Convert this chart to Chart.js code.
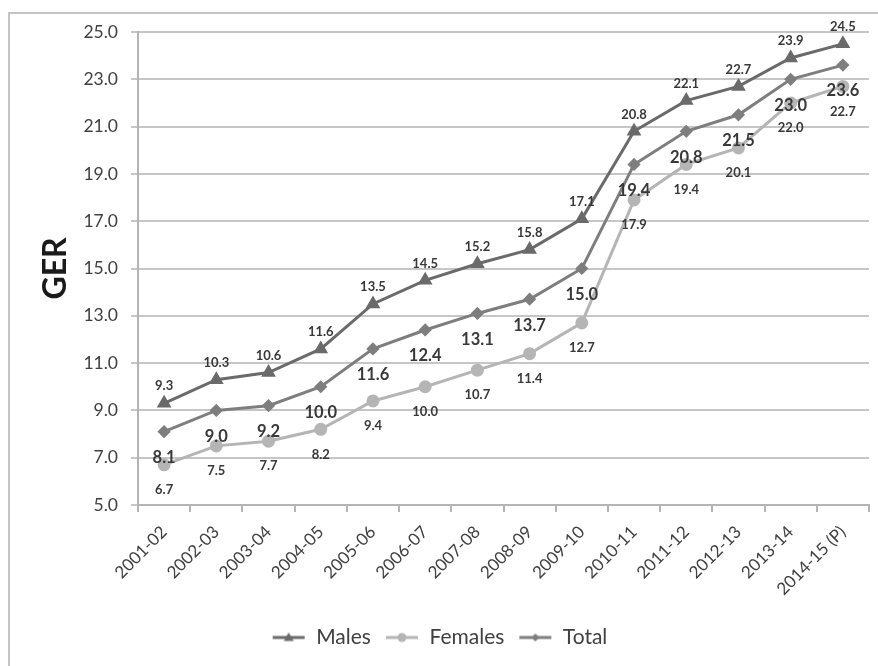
<!DOCTYPE html>
<html>
<head>
<meta charset="utf-8">
<script src="https://cdn.jsdelivr.net/npm/chart.js@4.4.1/dist/chart.umd.min.js"></script>
<style>
  html, body { margin: 0; padding: 0; background: #ffffff; overflow: hidden; }
  #frame { position: absolute; left: 8px; top: 12px; width: 1000px; height: 800px;
           border-left: 2px solid #c4c4c4; border-top: 2px solid #c4c4c4; }
  #wrap { position: absolute; left: 0; top: 0; width: 878px; height: 666px; }
</style>
</head>
<body>
<div id="frame"></div>
<div id="wrap"><canvas id="c" width="878" height="666"></canvas></div>
<script>
const categories = ["2001-02","2002-03","2003-04","2004-05","2005-06","2006-07","2007-08","2008-09","2009-10","2010-11","2011-12","2012-13","2013-14","2014-15 (P)"];
const males   = [9.3, 10.3, 10.6, 11.6, 13.5, 14.5, 15.2, 15.8, 17.1, 20.8, 22.1, 22.7, 23.9, 24.5];
const females = [6.7, 7.5, 7.7, 8.2, 9.4, 10.0, 10.7, 11.4, 12.7, 17.9, 19.4, 20.1, 22.0, 22.7];
const total   = [8.1, 9.0, 9.2, 10.0, 11.6, 12.4, 13.1, 13.7, 15.0, 19.4, 20.8, 21.5, 23.0, 23.6];
const yMin = 5.0, yMax = 25.0, yStep = 2.0;

const FONT = "Lato, 'Open Sans', sans-serif";
const C_MALE = '#6a6a6a', C_FEMALE = '#b5b5b5', C_TOTAL = '#7e7e7e';

function legendIcon(color, style, r) {
  const cv = document.createElement('canvas');
  cv.width = 34; cv.height = 14;
  const g = cv.getContext('2d');
  g.strokeStyle = color; g.lineWidth = 3;
  g.beginPath(); g.moveTo(1, 7); g.lineTo(33, 7); g.stroke();
  g.fillStyle = color;
  g.beginPath();
  if (style === 'triangle') { g.moveTo(17, 7 - r); g.lineTo(17 + r, 7 + r * 0.7); g.lineTo(17 - r, 7 + r * 0.7); g.closePath(); }
  else if (style === 'circle') { g.arc(17, 7, r, 0, Math.PI * 2); }
  else { g.moveTo(17, 7 - r); g.lineTo(17 + r, 7); g.lineTo(17, 7 + r); g.lineTo(17 - r, 7); g.closePath(); }
  g.fill();
  return cv;
}

const dataLabels = {
  id: 'dataLabels',
  afterDatasetsDraw(chart) {
    const ctx = chart.ctx;
    chart.data.datasets.forEach((ds, i) => {
      const meta = chart.getDatasetMeta(i);
      ctx.save();
      ctx.font = ds.lblFont;
      ctx.fillStyle = '#383838';
      ctx.textAlign = 'center';
      ctx.textBaseline = 'middle';
      meta.data.forEach((el, j) => {
        ctx.fillText(ds.data[j].toFixed(1), el.x, el.y + ds.lblDy);
      });
      ctx.restore();
    });
  }
};

new Chart(document.getElementById('c'), {
  type: 'line',
  data: {
    labels: categories,
    datasets: [
      { label: 'Males', data: males, borderColor: C_MALE, backgroundColor: C_MALE, borderWidth: 3,
        pointStyle: 'triangle', pointRadius: 5.5, pointHoverRadius: 5.5, tension: 0,
        lblFont: "bold 13px " + FONT, lblDy: -17, legendIcon: legendIcon(C_MALE, 'triangle', 5) },
      { label: 'Females', data: females, borderColor: C_FEMALE, backgroundColor: C_FEMALE, borderWidth: 3,
        pointStyle: 'circle', pointRadius: 5, pointHoverRadius: 5, tension: 0,
        lblFont: "bold 13px " + FONT, lblDy: 25, legendIcon: legendIcon(C_FEMALE, 'circle', 4.5) },
      { label: 'Total', data: total, borderColor: C_TOTAL, backgroundColor: C_TOTAL, borderWidth: 3,
        pointStyle: 'rectRot', pointRadius: 4.5, pointHoverRadius: 4.5, tension: 0,
        lblFont: "bold 16.5px " + FONT, lblDy: 26, legendIcon: legendIcon(C_TOTAL, 'rectRot', 4) }
    ]
  },
  options: {
    responsive: false,
    animation: false,
    devicePixelRatio: 1,
    layout: { padding: { top: 32, right: 9, left: 10, bottom: 8 } },
    plugins: {
      tooltip: { enabled: false },
      legend: {
        position: 'bottom',
        labels: {
          font: { family: FONT, size: 21 },
          color: '#404040',
          usePointStyle: true,
          pointStyleWidth: 34,
          padding: 14,
          generateLabels(chart) {
            return chart.data.datasets.map((ds, i) => ({
              text: ds.label, pointStyle: ds.legendIcon, fillStyle: ds.borderColor,
              strokeStyle: ds.borderColor, lineWidth: 0, hidden: false, datasetIndex: i,
              fontColor: '#404040'
            }));
          }
        }
      }
    },
    scales: {
      x: {
        offset: true,
        grid: { display: true, drawOnChartArea: false, drawTicks: true, tickLength: 7, color: '#b4b4b4', lineWidth: 2, offset: true },
        border: { color: '#b4b4b4', width: 2 },
        ticks: { font: { family: FONT, size: 17 }, color: '#404040', maxRotation: 45, minRotation: 45, padding: 10, autoSkip: false },
        afterFit(scale) { scale.height = 108; }
      },
      y: {
        min: yMin, max: yMax,
        grid: { color: '#c6c6c6', lineWidth: 2, drawTicks: true, tickLength: 7 },
        border: { color: '#b4b4b4', width: 2 },
        ticks: { stepSize: yStep, font: { family: FONT, size: 17.5 }, color: '#404040', padding: 13,
                 callback: v => Number(v).toFixed(1) },
        title: { display: true, text: 'GER', font: { family: FONT, size: 32, weight: 'bold' }, color: '#1a1a1a', padding: { top: 26, bottom: 0 } },
        afterFit(scale) { scale.width = 128; }
      }
    }
  },
  plugins: [dataLabels]
});
</script>
</body>
</html>
